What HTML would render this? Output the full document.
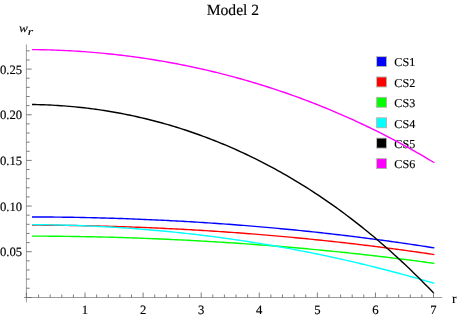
<!DOCTYPE html>
<html><head><meta charset="utf-8"><title>Model 2</title>
<style>
html,body{margin:0;padding:0;background:#fff;}
body{width:460px;height:318px;overflow:hidden;}
svg{display:block;will-change:transform;}
text{font-family:"Liberation Serif",serif;fill:#000;text-rendering:geometricPrecision;stroke:#000;stroke-width:0.15px;stroke-linejoin:round;}
</style></head><body>
<svg width="460" height="318" viewBox="0 0 460 318">
<rect width="460" height="318" fill="#fff"/>
<rect x="376.1" y="56.10" width="10.9" height="10.9" fill="#b6b6ae"/>
<rect x="377.05" y="57.05" width="9.0" height="9.0" fill="#0000ff"/>
<text x="394.35" y="66.40" font-size="12.1" stroke-width="0.3">CS1</text>
<rect x="376.1" y="76.50" width="10.9" height="10.9" fill="#b6b6ae"/>
<rect x="377.05" y="77.45" width="9.0" height="9.0" fill="#ff0000"/>
<text x="394.35" y="86.80" font-size="12.1" stroke-width="0.3">CS2</text>
<rect x="376.1" y="96.90" width="10.9" height="10.9" fill="#b6b6ae"/>
<rect x="377.05" y="97.85" width="9.0" height="9.0" fill="#00ff00"/>
<text x="394.35" y="107.20" font-size="12.1" stroke-width="0.3">CS3</text>
<rect x="376.1" y="117.30" width="10.9" height="10.9" fill="#b6b6ae"/>
<rect x="377.05" y="118.25" width="9.0" height="9.0" fill="#00ffff"/>
<text x="394.35" y="127.60" font-size="12.1" stroke-width="0.3">CS4</text>
<rect x="376.1" y="137.70" width="10.9" height="10.9" fill="#b6b6ae"/>
<rect x="377.05" y="138.65" width="9.0" height="9.0" fill="#000000"/>
<text x="394.35" y="148.00" font-size="12.1" stroke-width="0.3">CS5</text>
<rect x="376.1" y="158.10" width="10.9" height="10.9" fill="#b6b6ae"/>
<rect x="377.05" y="159.05" width="9.0" height="9.0" fill="#ff00ff"/>
<text x="394.35" y="168.40" font-size="12.1" stroke-width="0.3">CS6</text>
<path d="M32.02,216.95 L34.91,216.95 L37.81,216.96 L40.70,216.98 L43.60,216.99 L46.49,217.01 L49.39,217.04 L52.28,217.06 L55.18,217.09 L58.07,217.12 L60.97,217.16 L63.86,217.19 L66.75,217.23 L69.65,217.28 L72.54,217.32 L75.44,217.37 L78.33,217.42 L81.23,217.48 L84.12,217.54 L87.02,217.60 L89.91,217.66 L92.80,217.73 L95.70,217.80 L98.59,217.87 L101.49,217.95 L104.38,218.03 L107.28,218.11 L110.17,218.20 L113.07,218.28 L115.96,218.37 L118.86,218.47 L121.75,218.57 L124.64,218.67 L127.54,218.77 L130.43,218.88 L133.33,218.99 L136.22,219.10 L139.12,219.21 L142.01,219.33 L144.91,219.45 L147.80,219.58 L150.69,219.71 L153.59,219.84 L156.48,219.97 L159.38,220.11 L162.27,220.25 L165.17,220.39 L168.06,220.53 L170.96,220.68 L173.85,220.84 L176.75,220.99 L179.64,221.15 L182.53,221.31 L185.43,221.48 L188.32,221.64 L191.22,221.81 L194.11,221.99 L197.01,222.16 L199.90,222.34 L202.80,222.53 L205.69,222.71 L208.58,222.90 L211.48,223.10 L214.37,223.29 L217.27,223.49 L220.16,223.69 L223.06,223.90 L225.95,224.11 L228.85,224.32 L231.74,224.53 L234.64,224.75 L237.53,224.97 L240.42,225.20 L243.32,225.42 L246.21,225.65 L249.11,225.89 L252.00,226.12 L254.90,226.37 L257.79,226.61 L260.69,226.86 L263.58,227.11 L266.48,227.36 L269.37,227.62 L272.26,227.88 L275.16,228.14 L278.05,228.41 L280.95,228.68 L283.84,228.95 L286.74,229.22 L289.63,229.50 L292.53,229.79 L295.42,230.07 L298.31,230.36 L301.21,230.66 L304.10,230.95 L307.00,231.25 L309.89,231.56 L312.79,231.86 L315.68,232.17 L318.58,232.49 L321.47,232.80 L324.37,233.12 L327.26,233.45 L330.15,233.77 L333.05,234.10 L335.94,234.44 L338.84,234.77 L341.73,235.11 L344.63,235.46 L347.52,235.81 L350.42,236.16 L353.31,236.51 L356.20,236.87 L359.10,237.23 L361.99,237.60 L364.89,237.97 L367.78,238.34 L370.68,238.72 L373.57,239.09 L376.47,239.48 L379.36,239.86 L382.26,240.25 L385.15,240.65 L388.04,241.05 L390.94,241.45 L393.83,241.85 L396.73,242.26 L399.62,242.67 L402.52,243.09 L405.41,243.51 L408.31,243.93 L411.20,244.36 L414.10,244.79 L416.99,245.22 L419.88,245.66 L422.78,246.10 L425.67,246.55 L428.57,247.00 L431.46,247.45 L434.36,247.91" fill="none" stroke="#0000ff" stroke-width="1.4" stroke-linejoin="round"/>
<path d="M32.02,225.14 L34.91,225.14 L37.81,225.15 L40.70,225.17 L43.60,225.18 L46.49,225.20 L49.39,225.22 L52.28,225.25 L55.18,225.27 L58.07,225.30 L60.97,225.34 L63.86,225.37 L66.75,225.41 L69.65,225.45 L72.54,225.50 L75.44,225.54 L78.33,225.59 L81.23,225.65 L84.12,225.70 L87.02,225.76 L89.91,225.82 L92.80,225.89 L95.70,225.95 L98.59,226.02 L101.49,226.10 L104.38,226.17 L107.28,226.25 L110.17,226.33 L113.07,226.42 L115.96,226.51 L118.86,226.60 L121.75,226.69 L124.64,226.79 L127.54,226.89 L130.43,226.99 L133.33,227.09 L136.22,227.20 L139.12,227.31 L142.01,227.42 L144.91,227.54 L147.80,227.66 L150.69,227.78 L153.59,227.91 L156.48,228.04 L159.38,228.17 L162.27,228.30 L165.17,228.44 L168.06,228.58 L170.96,228.72 L173.85,228.87 L176.75,229.01 L179.64,229.17 L182.53,229.32 L185.43,229.48 L188.32,229.64 L191.22,229.80 L194.11,229.97 L197.01,230.14 L199.90,230.31 L202.80,230.48 L205.69,230.66 L208.58,230.84 L211.48,231.03 L214.37,231.21 L217.27,231.40 L220.16,231.60 L223.06,231.79 L225.95,231.99 L228.85,232.20 L231.74,232.40 L234.64,232.61 L237.53,232.82 L240.42,233.03 L243.32,233.25 L246.21,233.47 L249.11,233.70 L252.00,233.92 L254.90,234.15 L257.79,234.38 L260.69,234.62 L263.58,234.86 L266.48,235.10 L269.37,235.34 L272.26,235.59 L275.16,235.84 L278.05,236.10 L280.95,236.35 L283.84,236.61 L286.74,236.88 L289.63,237.14 L292.53,237.41 L295.42,237.69 L298.31,237.96 L301.21,238.24 L304.10,238.52 L307.00,238.81 L309.89,239.10 L312.79,239.39 L315.68,239.68 L318.58,239.98 L321.47,240.28 L324.37,240.59 L327.26,240.89 L330.15,241.20 L333.05,241.52 L335.94,241.84 L338.84,242.16 L341.73,242.48 L344.63,242.81 L347.52,243.14 L350.42,243.47 L353.31,243.81 L356.20,244.15 L359.10,244.49 L361.99,244.84 L364.89,245.19 L367.78,245.54 L370.68,245.89 L373.57,246.25 L376.47,246.62 L379.36,246.98 L382.26,247.35 L385.15,247.73 L388.04,248.10 L390.94,248.48 L393.83,248.86 L396.73,249.25 L399.62,249.64 L402.52,250.03 L405.41,250.43 L408.31,250.83 L411.20,251.23 L414.10,251.64 L416.99,252.05 L419.88,252.46 L422.78,252.88 L425.67,253.30 L428.57,253.73 L431.46,254.15 L434.36,254.58" fill="none" stroke="#ff0000" stroke-width="1.4" stroke-linejoin="round"/>
<path d="M32.02,236.11 L34.91,236.12 L37.81,236.13 L40.70,236.14 L43.60,236.15 L46.49,236.17 L49.39,236.19 L52.28,236.21 L55.18,236.24 L58.07,236.27 L60.97,236.30 L63.86,236.33 L66.75,236.37 L69.65,236.41 L72.54,236.45 L75.44,236.49 L78.33,236.54 L81.23,236.59 L84.12,236.64 L87.02,236.69 L89.91,236.75 L92.80,236.81 L95.70,236.87 L98.59,236.94 L101.49,237.01 L104.38,237.08 L107.28,237.15 L110.17,237.23 L113.07,237.31 L115.96,237.39 L118.86,237.47 L121.75,237.56 L124.64,237.65 L127.54,237.74 L130.43,237.84 L133.33,237.93 L136.22,238.03 L139.12,238.14 L142.01,238.24 L144.91,238.35 L147.80,238.46 L150.69,238.58 L153.59,238.69 L156.48,238.81 L159.38,238.93 L162.27,239.06 L165.17,239.19 L168.06,239.32 L170.96,239.45 L173.85,239.59 L176.75,239.72 L179.64,239.86 L182.53,240.01 L185.43,240.16 L188.32,240.30 L191.22,240.46 L194.11,240.61 L197.01,240.77 L199.90,240.93 L202.80,241.09 L205.69,241.26 L208.58,241.43 L211.48,241.60 L214.37,241.77 L217.27,241.95 L220.16,242.13 L223.06,242.31 L225.95,242.49 L228.85,242.68 L231.74,242.87 L234.64,243.07 L237.53,243.26 L240.42,243.46 L243.32,243.66 L246.21,243.87 L249.11,244.08 L252.00,244.29 L254.90,244.50 L257.79,244.71 L260.69,244.93 L263.58,245.15 L266.48,245.38 L269.37,245.61 L272.26,245.84 L275.16,246.07 L278.05,246.30 L280.95,246.54 L283.84,246.78 L286.74,247.03 L289.63,247.28 L292.53,247.53 L295.42,247.78 L298.31,248.03 L301.21,248.29 L304.10,248.55 L307.00,248.82 L309.89,249.08 L312.79,249.35 L315.68,249.63 L318.58,249.90 L321.47,250.18 L324.37,250.46 L327.26,250.75 L330.15,251.04 L333.05,251.33 L335.94,251.62 L338.84,251.92 L341.73,252.22 L344.63,252.52 L347.52,252.82 L350.42,253.13 L353.31,253.44 L356.20,253.76 L359.10,254.07 L361.99,254.39 L364.89,254.72 L367.78,255.04 L370.68,255.37 L373.57,255.70 L376.47,256.04 L379.36,256.38 L382.26,256.72 L385.15,257.06 L388.04,257.41 L390.94,257.76 L393.83,258.11 L396.73,258.47 L399.62,258.83 L402.52,259.19 L405.41,259.56 L408.31,259.92 L411.20,260.30 L414.10,260.67 L416.99,261.05 L419.88,261.43 L422.78,261.81 L425.67,262.20 L428.57,262.59 L431.46,262.98 L434.36,263.38" fill="none" stroke="#00ff00" stroke-width="1.4" stroke-linejoin="round"/>
<path d="M32.02,224.66 L34.91,224.67 L37.81,224.69 L40.70,224.72 L43.60,224.75 L46.49,224.79 L49.39,224.83 L52.28,224.88 L55.18,224.93 L58.07,224.99 L60.97,225.06 L63.86,225.13 L66.75,225.21 L69.65,225.29 L72.54,225.38 L75.44,225.47 L78.33,225.57 L81.23,225.68 L84.12,225.79 L87.02,225.91 L89.91,226.03 L92.80,226.16 L95.70,226.29 L98.59,226.43 L101.49,226.58 L104.38,226.73 L107.28,226.89 L110.17,227.05 L113.07,227.22 L115.96,227.40 L118.86,227.58 L121.75,227.76 L124.64,227.96 L127.54,228.15 L130.43,228.36 L133.33,228.57 L136.22,228.78 L139.12,229.00 L142.01,229.23 L144.91,229.46 L147.80,229.70 L150.69,229.94 L153.59,230.19 L156.48,230.45 L159.38,230.71 L162.27,230.98 L165.17,231.25 L168.06,231.53 L170.96,231.82 L173.85,232.11 L176.75,232.40 L179.64,232.71 L182.53,233.02 L185.43,233.33 L188.32,233.65 L191.22,233.98 L194.11,234.31 L197.01,234.65 L199.90,234.99 L202.80,235.34 L205.69,235.70 L208.58,236.06 L211.48,236.43 L214.37,236.80 L217.27,237.18 L220.16,237.56 L223.06,237.96 L225.95,238.35 L228.85,238.76 L231.74,239.17 L234.64,239.58 L237.53,240.00 L240.42,240.43 L243.32,240.86 L246.21,241.30 L249.11,241.75 L252.00,242.20 L254.90,242.66 L257.79,243.12 L260.69,243.59 L263.58,244.07 L266.48,244.55 L269.37,245.04 L272.26,245.54 L275.16,246.04 L278.05,246.54 L280.95,247.06 L283.84,247.57 L286.74,248.10 L289.63,248.63 L292.53,249.17 L295.42,249.71 L298.31,250.26 L301.21,250.82 L304.10,251.38 L307.00,251.95 L309.89,252.53 L312.79,253.11 L315.68,253.70 L318.58,254.29 L321.47,254.89 L324.37,255.50 L327.26,256.11 L330.15,256.73 L333.05,257.36 L335.94,257.99 L338.84,258.63 L341.73,259.27 L344.63,259.92 L347.52,260.58 L350.42,261.25 L353.31,261.92 L356.20,262.59 L359.10,263.28 L361.99,263.97 L364.89,264.66 L367.78,265.37 L370.68,266.08 L373.57,266.79 L376.47,267.52 L379.36,268.25 L382.26,268.98 L385.15,269.73 L388.04,270.48 L390.94,271.23 L393.83,271.99 L396.73,272.76 L399.62,273.54 L402.52,274.32 L405.41,275.11 L408.31,275.91 L411.20,276.71 L414.10,277.52 L416.99,278.34 L419.88,279.16 L422.78,279.99 L425.67,280.83 L428.57,281.67 L431.46,282.52 L434.36,283.38" fill="none" stroke="#00ffff" stroke-width="1.4" stroke-linejoin="round"/>
<path d="M32.02,104.53 L34.91,104.57 L37.80,104.63 L40.69,104.71 L43.59,104.80 L46.48,104.91 L49.37,105.03 L52.26,105.17 L55.15,105.33 L58.04,105.50 L60.94,105.69 L63.83,105.90 L66.72,106.12 L69.61,106.36 L72.50,106.62 L75.39,106.89 L78.29,107.18 L81.18,107.49 L84.07,107.81 L86.96,108.15 L89.85,108.51 L92.74,108.88 L95.63,109.28 L98.53,109.68 L101.42,110.11 L104.31,110.55 L107.20,111.01 L110.09,111.49 L112.98,111.98 L115.88,112.49 L118.77,113.02 L121.66,113.56 L124.55,114.12 L127.44,114.70 L130.33,115.30 L133.23,115.92 L136.12,116.55 L139.01,117.20 L141.90,117.86 L144.79,118.55 L147.68,119.25 L150.57,119.97 L153.47,120.71 L156.36,121.47 L159.25,122.24 L162.14,123.03 L165.03,123.85 L167.92,124.67 L170.82,125.52 L173.71,126.39 L176.60,127.27 L179.49,128.17 L182.38,129.09 L185.27,130.03 L188.17,130.99 L191.06,131.97 L193.95,132.97 L196.84,133.98 L199.73,135.02 L202.62,136.07 L205.51,137.14 L208.41,138.24 L211.30,139.35 L214.19,140.48 L217.08,141.63 L219.97,142.80 L222.86,143.99 L225.76,145.21 L228.65,146.44 L231.54,147.69 L234.43,148.96 L237.32,150.25 L240.21,151.56 L243.11,152.90 L246.00,154.25 L248.89,155.63 L251.78,157.02 L254.67,158.44 L257.56,159.88 L260.45,161.34 L263.35,162.82 L266.24,164.32 L269.13,165.84 L272.02,167.39 L274.91,168.96 L277.80,170.55 L280.70,172.16 L283.59,173.79 L286.48,175.45 L289.37,177.13 L292.26,178.83 L295.15,180.56 L298.05,182.30 L300.94,184.08 L303.83,185.87 L306.72,187.69 L309.61,189.53 L312.50,191.40 L315.39,193.29 L318.29,195.20 L321.18,197.14 L324.07,199.10 L326.96,201.08 L329.85,203.10 L332.74,205.13 L335.64,207.19 L338.53,209.28 L341.42,211.39 L344.31,213.53 L347.20,215.69 L350.09,217.88 L352.99,220.09 L355.88,222.33 L358.77,224.60 L361.66,226.89 L364.55,229.21 L367.44,231.56 L370.33,233.93 L373.23,236.33 L376.12,238.76 L379.01,241.22 L381.90,243.70 L384.79,246.21 L387.68,248.75 L390.58,251.32 L393.47,253.91 L396.36,256.54 L399.25,259.19 L402.14,261.88 L405.03,264.59 L407.93,267.33 L410.82,270.10 L413.71,272.90 L416.60,275.73 L419.49,278.59 L422.38,281.49 L425.27,284.41 L428.17,287.36 L431.06,290.35 L433.95,293.36" fill="none" stroke="#000000" stroke-width="1.4" stroke-linejoin="round"/>
<path d="M32.02,49.61 L34.91,49.64 L37.81,49.67 L40.70,49.72 L43.60,49.78 L46.49,49.85 L49.39,49.92 L52.28,50.01 L55.18,50.11 L58.07,50.22 L60.97,50.34 L63.86,50.47 L66.75,50.61 L69.65,50.76 L72.54,50.92 L75.44,51.09 L78.33,51.28 L81.23,51.47 L84.12,51.67 L87.02,51.89 L89.91,52.11 L92.80,52.34 L95.70,52.59 L98.59,52.85 L101.49,53.11 L104.38,53.39 L107.28,53.68 L110.17,53.97 L113.07,54.28 L115.96,54.60 L118.86,54.93 L121.75,55.27 L124.64,55.62 L127.54,55.99 L130.43,56.36 L133.33,56.74 L136.22,57.14 L139.12,57.54 L142.01,57.96 L144.91,58.39 L147.80,58.82 L150.69,59.27 L153.59,59.73 L156.48,60.20 L159.38,60.69 L162.27,61.18 L165.17,61.68 L168.06,62.20 L170.96,62.72 L173.85,63.26 L176.75,63.81 L179.64,64.37 L182.53,64.94 L185.43,65.52 L188.32,66.11 L191.22,66.72 L194.11,67.33 L197.01,67.96 L199.90,68.60 L202.80,69.25 L205.69,69.91 L208.58,70.59 L211.48,71.27 L214.37,71.97 L217.27,72.67 L220.16,73.39 L223.06,74.13 L225.95,74.87 L228.85,75.62 L231.74,76.39 L234.64,77.17 L237.53,77.96 L240.42,78.76 L243.32,79.58 L246.21,80.41 L249.11,81.25 L252.00,82.10 L254.90,82.96 L257.79,83.84 L260.69,84.72 L263.58,85.63 L266.48,86.54 L269.37,87.46 L272.26,88.40 L275.16,89.35 L278.05,90.32 L280.95,91.29 L283.84,92.28 L286.74,93.28 L289.63,94.30 L292.53,95.32 L295.42,96.36 L298.31,97.42 L301.21,98.48 L304.10,99.56 L307.00,100.65 L309.89,101.76 L312.79,102.88 L315.68,104.01 L318.58,105.16 L321.47,106.32 L324.37,107.49 L327.26,108.67 L330.15,109.87 L333.05,111.09 L335.94,112.32 L338.84,113.56 L341.73,114.81 L344.63,116.08 L347.52,117.37 L350.42,118.66 L353.31,119.97 L356.20,121.30 L359.10,122.64 L361.99,124.00 L364.89,125.37 L367.78,126.75 L370.68,128.15 L373.57,129.56 L376.47,130.99 L379.36,132.43 L382.26,133.89 L385.15,135.36 L388.04,136.85 L390.94,138.35 L393.83,139.87 L396.73,141.40 L399.62,142.95 L402.52,144.51 L405.41,146.09 L408.31,147.69 L411.20,149.30 L414.10,150.93 L416.99,152.57 L419.88,154.23 L422.78,155.90 L425.67,157.59 L428.57,159.30 L431.46,161.02 L434.36,162.76" fill="none" stroke="#ff00ff" stroke-width="1.4" stroke-linejoin="round"/>
<g stroke="#666" stroke-width="0.65" fill="none">
<line x1="24" y1="297.5" x2="442.1" y2="297.5"/>
<line x1="26.4" y1="44.5" x2="26.4" y2="302.4"/>
<line x1="26.40" y1="297.5" x2="26.40" y2="292.5" stroke-width="0.85"/>
<line x1="38.57" y1="297.5" x2="38.57" y2="294.5" stroke-width="0.85"/>
<line x1="50.18" y1="297.5" x2="50.18" y2="294.5" stroke-width="0.85"/>
<line x1="61.80" y1="297.5" x2="61.80" y2="294.5" stroke-width="0.85"/>
<line x1="73.41" y1="297.5" x2="73.41" y2="294.5" stroke-width="0.85"/>
<line x1="85.03" y1="297.5" x2="85.03" y2="292.5" stroke-width="0.85"/>
<line x1="96.65" y1="297.5" x2="96.65" y2="294.5" stroke-width="0.85"/>
<line x1="108.26" y1="297.5" x2="108.26" y2="294.5" stroke-width="0.85"/>
<line x1="119.88" y1="297.5" x2="119.88" y2="294.5" stroke-width="0.85"/>
<line x1="131.49" y1="297.5" x2="131.49" y2="294.5" stroke-width="0.85"/>
<line x1="143.11" y1="297.5" x2="143.11" y2="292.5" stroke-width="0.85"/>
<line x1="154.73" y1="297.5" x2="154.73" y2="294.5" stroke-width="0.85"/>
<line x1="166.34" y1="297.5" x2="166.34" y2="294.5" stroke-width="0.85"/>
<line x1="177.96" y1="297.5" x2="177.96" y2="294.5" stroke-width="0.85"/>
<line x1="189.57" y1="297.5" x2="189.57" y2="294.5" stroke-width="0.85"/>
<line x1="201.19" y1="297.5" x2="201.19" y2="292.5" stroke-width="0.85"/>
<line x1="212.81" y1="297.5" x2="212.81" y2="294.5" stroke-width="0.85"/>
<line x1="224.42" y1="297.5" x2="224.42" y2="294.5" stroke-width="0.85"/>
<line x1="236.04" y1="297.5" x2="236.04" y2="294.5" stroke-width="0.85"/>
<line x1="247.65" y1="297.5" x2="247.65" y2="294.5" stroke-width="0.85"/>
<line x1="259.27" y1="297.5" x2="259.27" y2="292.5" stroke-width="0.85"/>
<line x1="270.89" y1="297.5" x2="270.89" y2="294.5" stroke-width="0.85"/>
<line x1="282.50" y1="297.5" x2="282.50" y2="294.5" stroke-width="0.85"/>
<line x1="294.12" y1="297.5" x2="294.12" y2="294.5" stroke-width="0.85"/>
<line x1="305.73" y1="297.5" x2="305.73" y2="294.5" stroke-width="0.85"/>
<line x1="317.35" y1="297.5" x2="317.35" y2="292.5" stroke-width="0.85"/>
<line x1="328.97" y1="297.5" x2="328.97" y2="294.5" stroke-width="0.85"/>
<line x1="340.58" y1="297.5" x2="340.58" y2="294.5" stroke-width="0.85"/>
<line x1="352.20" y1="297.5" x2="352.20" y2="294.5" stroke-width="0.85"/>
<line x1="363.81" y1="297.5" x2="363.81" y2="294.5" stroke-width="0.85"/>
<line x1="375.43" y1="297.5" x2="375.43" y2="292.5" stroke-width="0.85"/>
<line x1="387.05" y1="297.5" x2="387.05" y2="294.5" stroke-width="0.85"/>
<line x1="398.66" y1="297.5" x2="398.66" y2="294.5" stroke-width="0.85"/>
<line x1="410.28" y1="297.5" x2="410.28" y2="294.5" stroke-width="0.85"/>
<line x1="421.89" y1="297.5" x2="421.89" y2="294.5" stroke-width="0.85"/>
<line x1="433.51" y1="297.5" x2="433.51" y2="292.5" stroke-width="0.85"/>
<line x1="26.4" y1="297.50" x2="31.7" y2="297.50" stroke-width="0.85"/>
<line x1="26.4" y1="288.22" x2="29.7" y2="288.22" stroke-width="0.85"/>
<line x1="26.4" y1="279.09" x2="29.7" y2="279.09" stroke-width="0.85"/>
<line x1="26.4" y1="269.96" x2="29.7" y2="269.96" stroke-width="0.85"/>
<line x1="26.4" y1="260.83" x2="29.7" y2="260.83" stroke-width="0.85"/>
<line x1="26.4" y1="251.70" x2="31.7" y2="251.70" stroke-width="0.85"/>
<line x1="26.4" y1="242.57" x2="29.7" y2="242.57" stroke-width="0.85"/>
<line x1="26.4" y1="233.44" x2="29.7" y2="233.44" stroke-width="0.85"/>
<line x1="26.4" y1="224.31" x2="29.7" y2="224.31" stroke-width="0.85"/>
<line x1="26.4" y1="215.18" x2="29.7" y2="215.18" stroke-width="0.85"/>
<line x1="26.4" y1="206.05" x2="31.7" y2="206.05" stroke-width="0.85"/>
<line x1="26.4" y1="196.92" x2="29.7" y2="196.92" stroke-width="0.85"/>
<line x1="26.4" y1="187.79" x2="29.7" y2="187.79" stroke-width="0.85"/>
<line x1="26.4" y1="178.66" x2="29.7" y2="178.66" stroke-width="0.85"/>
<line x1="26.4" y1="169.53" x2="29.7" y2="169.53" stroke-width="0.85"/>
<line x1="26.4" y1="160.40" x2="31.7" y2="160.40" stroke-width="0.85"/>
<line x1="26.4" y1="151.27" x2="29.7" y2="151.27" stroke-width="0.85"/>
<line x1="26.4" y1="142.14" x2="29.7" y2="142.14" stroke-width="0.85"/>
<line x1="26.4" y1="133.01" x2="29.7" y2="133.01" stroke-width="0.85"/>
<line x1="26.4" y1="123.88" x2="29.7" y2="123.88" stroke-width="0.85"/>
<line x1="26.4" y1="114.75" x2="31.7" y2="114.75" stroke-width="0.85"/>
<line x1="26.4" y1="105.62" x2="29.7" y2="105.62" stroke-width="0.85"/>
<line x1="26.4" y1="96.49" x2="29.7" y2="96.49" stroke-width="0.85"/>
<line x1="26.4" y1="87.36" x2="29.7" y2="87.36" stroke-width="0.85"/>
<line x1="26.4" y1="78.23" x2="29.7" y2="78.23" stroke-width="0.85"/>
<line x1="26.4" y1="69.10" x2="31.7" y2="69.10" stroke-width="0.85"/>
<line x1="26.4" y1="59.97" x2="29.7" y2="59.97" stroke-width="0.85"/>
<line x1="26.4" y1="50.84" x2="29.7" y2="50.84" stroke-width="0.85"/>
</g>
<text x="85.03" y="313.75" text-anchor="middle" font-size="12.7">1</text>
<text x="143.11" y="313.75" text-anchor="middle" font-size="12.7">2</text>
<text x="201.19" y="313.75" text-anchor="middle" font-size="12.7">3</text>
<text x="259.27" y="313.75" text-anchor="middle" font-size="12.7">4</text>
<text x="317.35" y="313.75" text-anchor="middle" font-size="12.7">5</text>
<text x="375.43" y="313.75" text-anchor="middle" font-size="12.7">6</text>
<text x="433.51" y="313.75" text-anchor="middle" font-size="12.7">7</text>
<text transform="translate(22.2,256.40) scale(1,1)" text-anchor="end" font-size="12.7">0.05</text>
<text transform="translate(22.2,210.75) scale(1,1)" text-anchor="end" font-size="12.7">0.10</text>
<text transform="translate(22.2,165.10) scale(1,1)" text-anchor="end" font-size="12.7">0.15</text>
<text transform="translate(22.2,119.45) scale(1,1)" text-anchor="end" font-size="12.7">0.20</text>
<text transform="translate(22.2,73.80) scale(1,1)" text-anchor="end" font-size="12.7">0.25</text>
<text x="232.9" y="15.35" text-anchor="middle" font-size="15.6" stroke-width="0.12">Model 2</text>
<text x="451.9" y="302.7" font-size="13.5" stroke-width="0.25">r</text>
<text transform="translate(19.1,31.85) scale(1.06,0.95)" font-size="12.5" font-style="italic" stroke-width="0.05">w</text>
<text transform="translate(27.65,34.8) scale(1.1,0.84)" font-size="12.5" font-style="italic" stroke-width="0.1">r</text>
</svg>
</body></html>
